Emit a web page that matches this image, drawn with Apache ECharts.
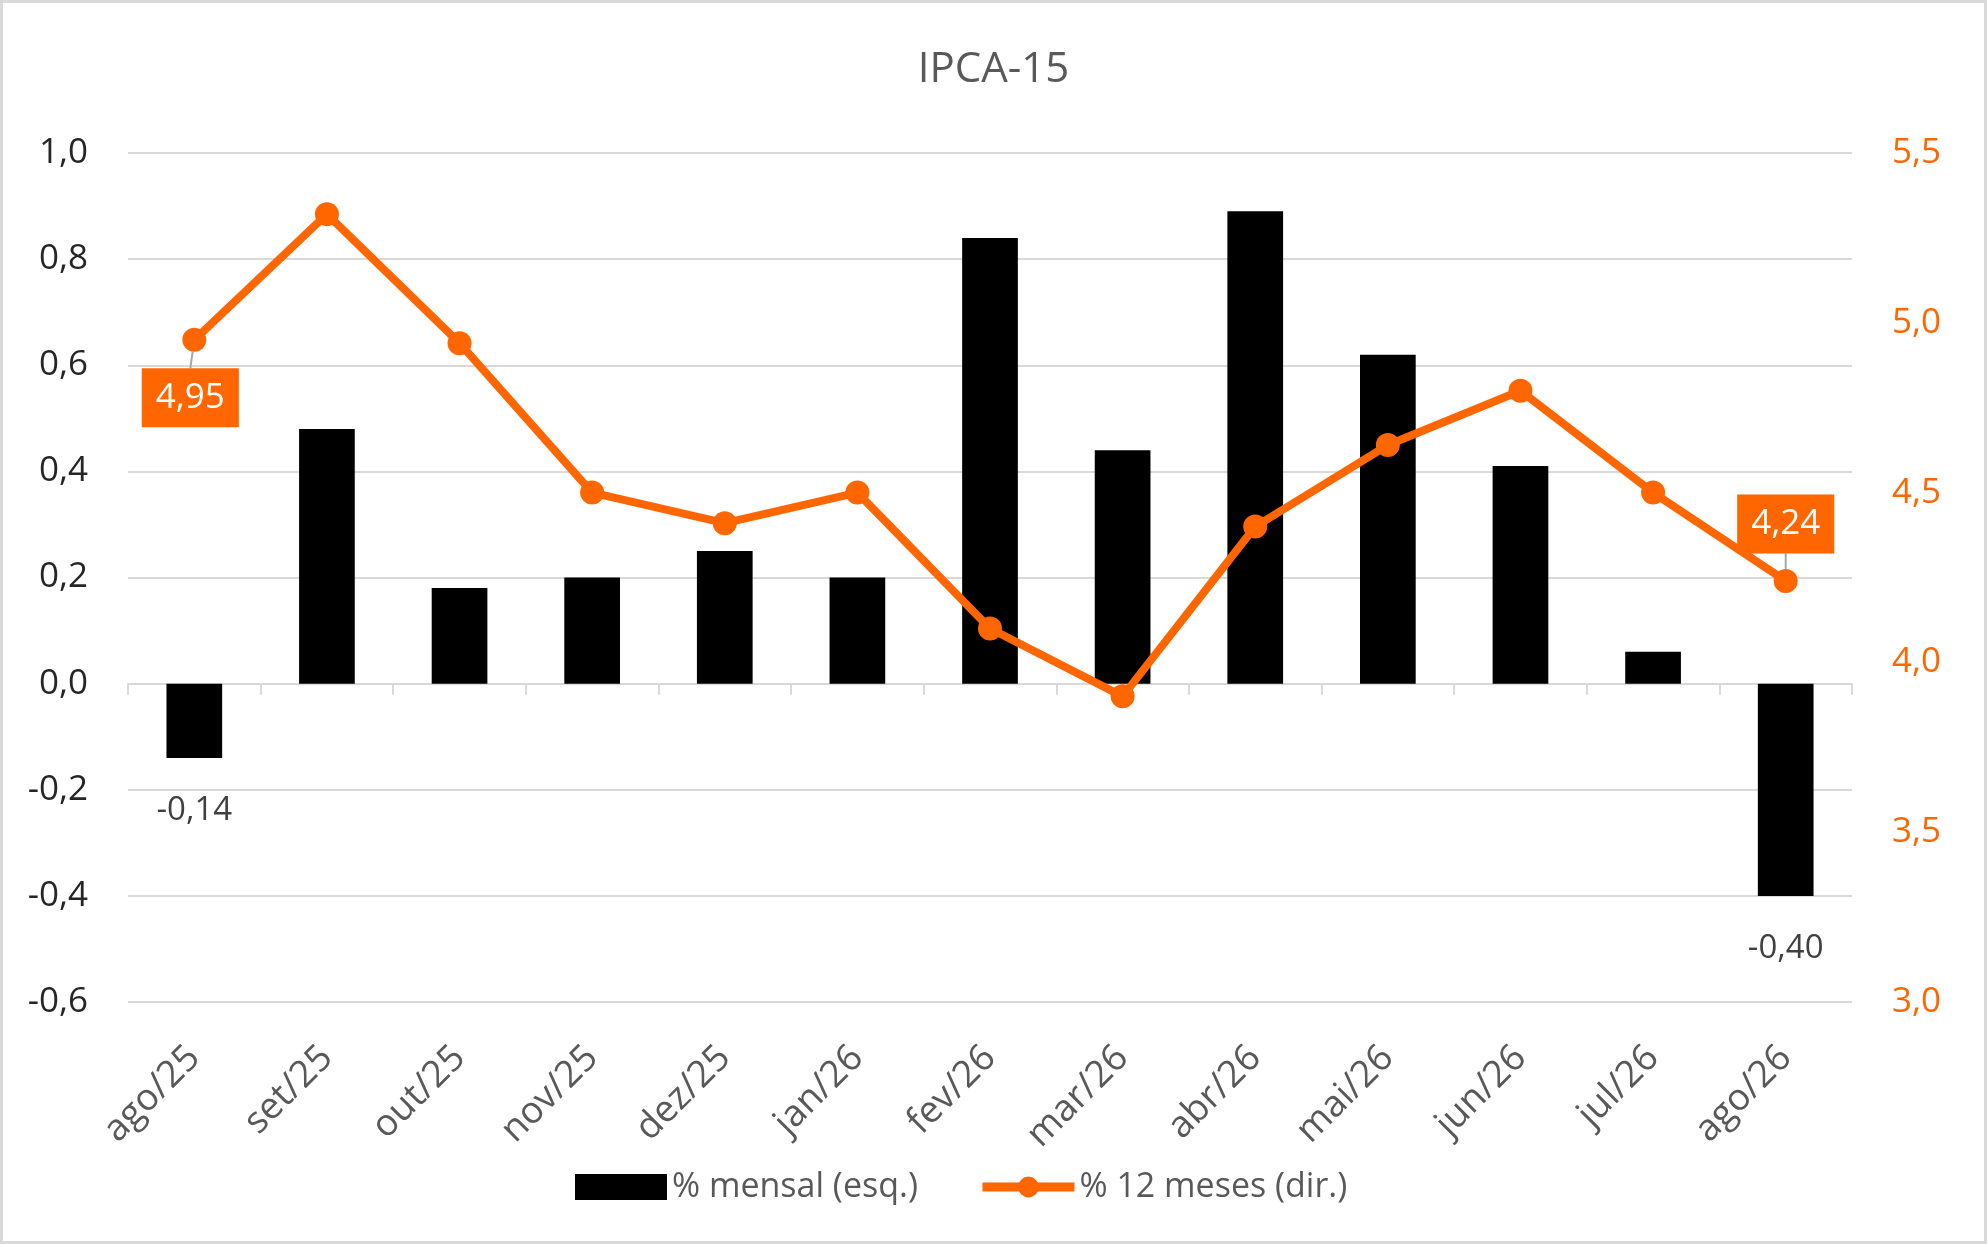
<!DOCTYPE html>
<html>
<head>
<meta charset="utf-8">
<title>IPCA-15</title>
<script src="https://cdn.jsdelivr.net/npm/echarts@6/dist/echarts.min.js"></script>
<style>
  html, body { margin: 0; padding: 0; background: #fff; }
  #chart { width: 1987px; height: 1244px; box-sizing: border-box; border: 3px solid #D9D9D9; }
</style>
</head>
<body>
<div id="chart"></div>
<script>
const months = ["ago/25", "set/25", "out/25", "nov/25", "dez/25", "jan/26", "fev/26",
  "mar/26", "abr/26", "mai/26", "jun/26", "jul/26", "ago/26"];
const mensal = [-0.14, 0.48, 0.18, 0.20, 0.25, 0.20, 0.84, 0.44, 0.89, 0.62, 0.41, 0.06, -0.40];
const dozeMeses = [4.95, 5.32, 4.94, 4.50, 4.41, 4.50, 4.10, 3.90, 4.40, 4.64, 4.80, 4.50, 4.24];
const labelledPoints = [0, 12];

const ORANGE = "#FF6600";
const FONT = "Open Sans";

const fmt = (v, d) => {
  if (Math.abs(v) < 1e-9) v = 0;
  return v.toFixed(d).replace(".", ",");
};

const myChart = echarts.init(document.getElementById("chart"));
const option = {
  textStyle: { fontFamily: FONT },
  title: {
    text: "IPCA-15",
    left: "center",
    top: 41,
    textStyle: { fontFamily: FONT, fontSize: 42, fontWeight: "normal", color: "#595959" },
  },
  legend: {
    bottom: 32,
    left: 567,
    itemWidth: 92,
    itemHeight: 26,
    itemGap: 60,
    textStyle: { fontFamily: FONT, fontSize: 34, color: "#595959" },
    data: [
      { name: "% mensal (esq.)", icon: "rect" },
      {
        name: "% 12 meses (dir.)",
        lineStyle: { width: 9, color: ORANGE },
        itemStyle: { color: ORANGE },
      },
    ],
  },
  grid: { left: 125, right: 132, top: 150, bottom: 239 },
  xAxis: [
    {
      type: "category",
      data: months,
      position: "bottom",
      axisLine: { onZero: true, lineStyle: { color: "#D9D9D9", width: 2 } },
      axisTick: { show: true, length: 11, lineStyle: { color: "#D9D9D9", width: 2 } },
      axisLabel: { show: false },
      splitLine: { show: false },
    },
    {
      type: "category",
      data: months,
      position: "bottom",
      axisLine: { show: false, onZero: false },
      axisTick: { show: false },
      axisLabel: {
        rotate: 45,
        margin: 50,
        fontFamily: FONT,
        fontSize: 37,
        color: "#595959",
      },
    },
  ],
  yAxis: [
    {
      type: "value",
      min: -0.6,
      max: 1.0,
      interval: 0.2,
      axisLine: { show: false },
      axisTick: { show: false },
      axisLabel: {
        margin: 40,
        fontFamily: FONT,
        fontSize: 35,
        color: "#262626",
        formatter: (v) => fmt(v, 1),
      },
      splitLine: { lineStyle: { color: "#D9D9D9", width: 2 } },
    },
    {
      type: "value",
      min: 3.0,
      max: 5.5,
      interval: 0.5,
      axisLine: { show: false },
      axisTick: { show: false },
      axisLabel: {
        margin: 40,
        fontFamily: FONT,
        fontSize: 35,
        color: ORANGE,
        formatter: (v) => fmt(v, 1),
      },
      splitLine: { show: false },
    },
  ],
  series: [
    {
      name: "% mensal (esq.)",
      type: "bar",
      xAxisIndex: 0,
      yAxisIndex: 0,
      barWidth: "42%",
      itemStyle: { color: "#000000" },
      data: mensal.map((v, i) => ({
        value: v,
        label: {
          show: labelledPoints.includes(i),
          position: "bottom",
          distance: 36,
          fontFamily: FONT,
          fontSize: 33,
          color: "#404040",
          formatter: (p) => fmt(p.value, 2),
        },
      })),
    },
    {
      name: "% 12 meses (dir.)",
      type: "line",
      xAxisIndex: 0,
      yAxisIndex: 1,
      symbol: "circle",
      symbolSize: 24,
      lineStyle: { color: ORANGE, width: 8 },
      itemStyle: { color: ORANGE },
      data: dozeMeses.map((v, i) => ({
        value: v,
        label: {
          show: labelledPoints.includes(i),
          position: "inside",
          fontFamily: FONT,
          fontSize: 35,
          color: "#ffffff",
          backgroundColor: ORANGE,
          padding: [12, 14, 12, 14],
          formatter: (p) => fmt(p.value, 2),
        },
      })),
      labelLine: { show: true, lineStyle: { color: "#A6A6A6", width: 2 } },
      labelLayout: (params) => {
        if (params.dataIndex === 0) return { dx: -4, dy: 58 };
        if (params.dataIndex === 12) return { dy: -57 };
        return {};
      },
      z: 3,
    },
  ],
};
myChart.setOption(option);
window.onresize = function () {
  myChart.resize();
};
</script>
</body>
</html>
